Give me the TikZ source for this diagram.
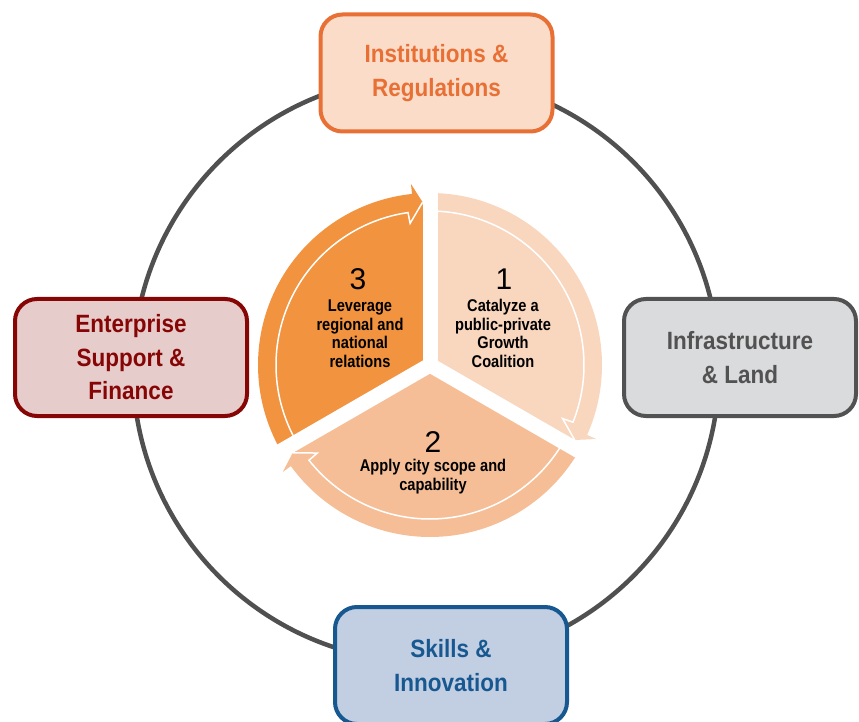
\documentclass[tikz,border=0pt]{standalone}
\usepackage{fontspec}
\setmainfont{Liberation Sans}
\newfontfamily\boxfont[FakeStretch=0.9]{Liberation Sans}
\newfontfamily\innerfont[FakeStretch=0.86]{Liberation Sans}
\definecolor{ringc}{RGB}{80,80,80}
\definecolor{instB}{RGB}{232,112,52}
\definecolor{instF}{RGB}{250,220,201}
\definecolor{entB}{RGB}{134,6,6}
\definecolor{entF}{RGB}{231,204,204}
\definecolor{infB}{RGB}{82,82,82}
\definecolor{infF}{RGB}{218,219,221}
\definecolor{sklB}{RGB}{24,88,145}
\definecolor{sklF}{RGB}{194,206,226}
\definecolor{secA}{RGB}{249,214,190}
\definecolor{secB}{RGB}{246,190,150}
\definecolor{secC}{RGB}{241,147,63}
\begin{document}
\begin{tikzpicture}[x=1pt,y=1pt,
  box/.style={rectangle, rounded corners=22pt, line width=4pt,
    minimum width=232pt, minimum height=117pt, align=center, inner sep=0pt,
    font=\boxfont\bfseries\fontsize{25}{33.5}\selectfont},
  ring/.style={draw=ringc, line width=4.5pt},
  gap/.style={draw=white, line width=15pt},
  arrowline/.style={draw=white, line width=1.5pt},
  lbl/.style={align=center, inner sep=0pt,
    font=\innerfont\bfseries\fontsize{17}{18.5}\selectfont},
  num/.style={inner sep=0pt, font=\fontsize{30}{30}\selectfont}]
\useasboundingbox (0,0) rectangle (859,721);
% outer ring
\coordinate (rc) at (426,352);
\draw[ring] (rc) circle[radius=293pt];
% boxes
\node[box, draw=instB, fill=instF, text=instB] (inst) at (436.5,648) {Institutions \&\\Regulations};
\node[box, draw=entB, fill=entF, text=entB] (ent) at (131,363.5) {Enterprise\\Support \&\\Finance};
\node[box, draw=infB, fill=infF, text=infB] (inf) at (740,363.5) {Infrastructure\\\& Land};
\node[box, draw=sklB, fill=sklF, text=sklB] (skl) at (451,55.5) {Skills \&\\Innovation};
% central segmented cycle
\coordinate (pc) at (430,356);
\foreach \rot/\col in {0/secC, -120/secA, -240/secB} {
  \begin{scope}[shift={(pc)}, rotate=\rot]
    \fill[\col] (0,0) -- (210:172pt) arc[start angle=210, end angle=96, radius=172pt]
      -- (96:182pt) -- (92.6:163pt) -- cycle;
    \draw[arrowline] (210:154pt) arc[start angle=210, end angle=98.2, radius=154pt]
      -- (98:143pt) -- (92.6:163pt);
  \end{scope}
}
\foreach \a in {90,-30,210} \draw[gap] (pc) -- ++(\a:200pt);
% texts
\node[num] (n3) at (358,442) {3};
\node[lbl] (t3) at (360,387.5) {Leverage\\regional and\\national\\relations};
\node[num] (n1) at (504,441.5) {1};
\node[lbl] (t1) at (503,387.5) {Catalyze a\\public-private\\Growth\\Coalition};
\node[num] (n2) at (433,279) {2};
\node[lbl] (t2) at (433,244.5) {Apply city scope and\\capability};
\end{tikzpicture}
\end{document}
